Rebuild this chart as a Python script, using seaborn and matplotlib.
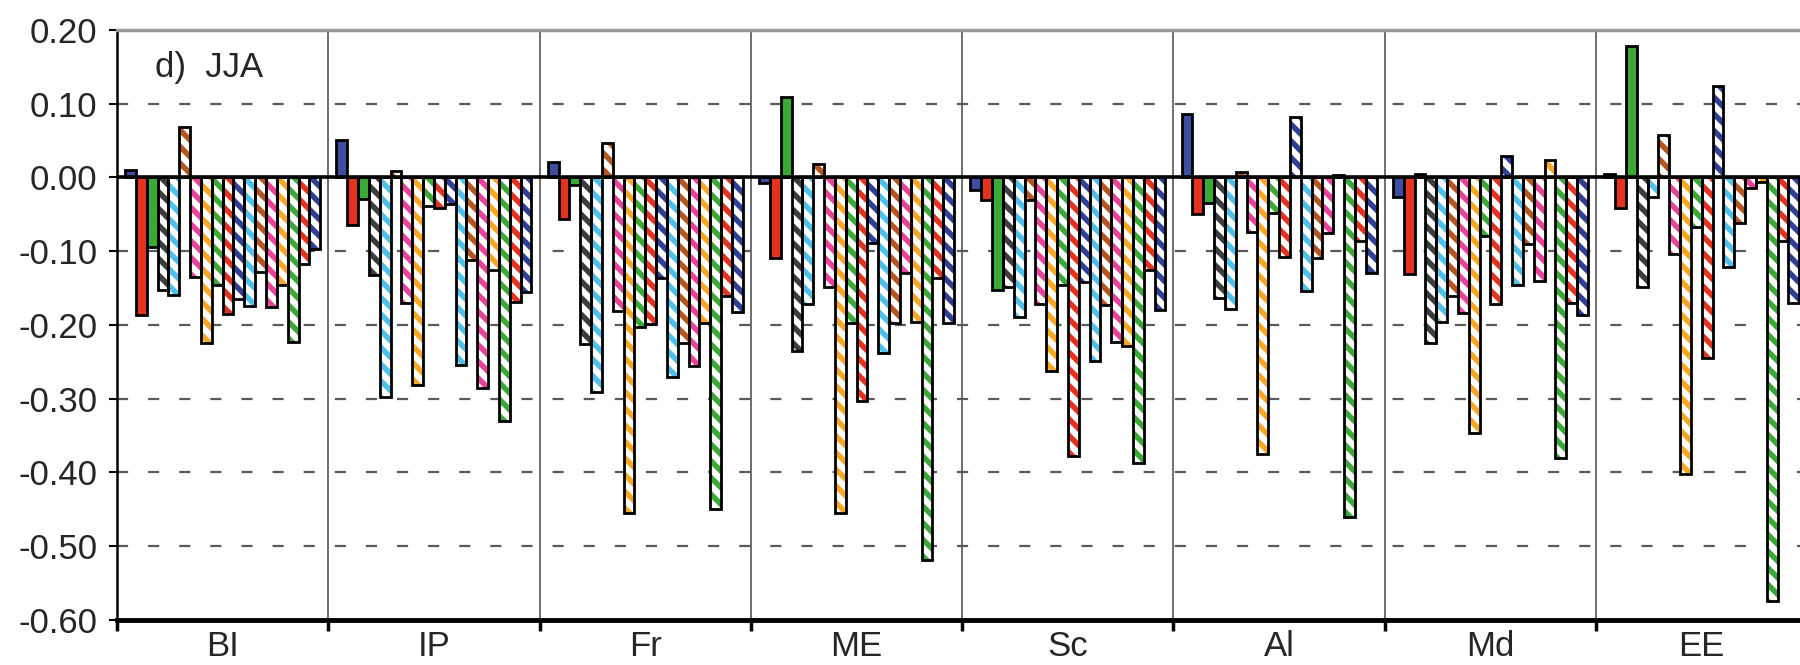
import matplotlib
matplotlib.use("Agg")
import matplotlib.pyplot as plt
from matplotlib.patches import Rectangle
import seaborn as sns
import pandas as pd

# regions on the x axis
regions = ["BI", "IP", "Fr", "ME", "Sc", "Al", "Md", "EE"]

# 18 series per region: 3 solid + 15 hatched
series = ["s%02d" % i for i in range(1, 19)]
colors = ["#3c4da2", "#e4321f", "#3aa935",
          "#3d3d3d", "#4dc1ea", "#b4561e", "#e8429a", "#f7a823",
          "#3aa935", "#e4321f", "#2f3f96", "#4dc1ea", "#b4561e",
          "#e8429a", "#f7a823", "#3aa935", "#e4321f", "#2f3f96"]
hatched = [False] * 3 + [True] * 15

# values (JJA)
bi = [0.010, -0.187, -0.094, -0.153, -0.160, 0.069, -0.135, -0.225, -0.146,
      -0.185, -0.165, -0.175, -0.128, -0.176, -0.146, -0.223, -0.117, -0.097]
ip = [0.051, -0.065, -0.029, -0.133, -0.298, 0.008, -0.171, -0.282, -0.039,
      -0.041, -0.036, -0.255, -0.112, -0.286, -0.126, -0.330, -0.169, -0.155]
fr = [0.021, -0.056, -0.011, -0.226, -0.291, 0.046, -0.181, -0.455, -0.203,
      -0.199, -0.137, -0.271, -0.225, -0.256, -0.198, -0.450, -0.161, -0.183]
me = [-0.008, -0.109, 0.109, -0.235, -0.172, 0.018, -0.148, -0.455, -0.198,
      -0.303, -0.089, -0.238, -0.197, -0.130, -0.196, -0.519, -0.137, -0.198]
sc = [-0.017, -0.030, -0.153, -0.148, -0.190, -0.031, -0.172, -0.263, -0.146,
      -0.378, -0.142, -0.249, -0.173, -0.223, -0.229, -0.387, -0.126, -0.180]
al = [0.086, -0.050, -0.035, -0.163, -0.178, 0.007, -0.074, -0.375, -0.048,
      -0.108, 0.082, -0.154, -0.110, -0.076, 0.003, -0.460, -0.086, -0.130]
md = [-0.027, -0.131, 0.004, -0.224, -0.196, -0.161, -0.184, -0.346, -0.079,
      -0.172, 0.029, -0.146, -0.090, -0.141, 0.023, -0.381, -0.171, -0.186]
ee = [0.004, -0.042, 0.178, -0.148, -0.026, 0.057, -0.104, -0.402, -0.067,
      -0.245, 0.124, -0.122, -0.062, -0.015, -0.006, -0.574, -0.086, -0.171]

values = [bi, ip, fr, me, sc, al, md, ee]
rows = []
for reg, vals in zip(regions, values):
    for s, v in zip(series, vals):
        rows.append({"region": reg, "series": s, "value": v})
df = pd.DataFrame(rows)

HATCH_LW = 4.0

sns.set_style("white")
plt.rcParams["font.family"] = ["Liberation Sans", "DejaVu Sans"]
plt.rcParams["axes.unicode_minus"] = False
plt.rcParams["hatch.linewidth"] = HATCH_LW

fig = plt.figure(figsize=(18, 6.65), dpi=100)
ax = fig.add_axes([0.065, 0.068, 0.935, 0.887])

sns.barplot(data=df, x="region", y="value", hue="series", order=regions,
            hue_order=series, palette=colors, width=18 / 19.5, errorbar=None,
            legend=False, saturation=1, ax=ax, zorder=3)

# hatch the outlined series, then draw black outlines on top
for cont, col, h in zip(ax.containers, colors, hatched):
    for p in cont.patches:
        if h:
            p.set_facecolor("white")
            p.set_edgecolor(col)
            p.set_hatch("\\\\")
            if hasattr(p, "set_hatch_linewidth"):
                p.set_hatch_linewidth(HATCH_LW)
            p.set_linewidth(0)
        else:
            p.set_edgecolor("none")
        ax.add_patch(Rectangle((p.get_x(), p.get_y()), p.get_width(), p.get_height(),
                               fill=False, edgecolor="black", lw=2.0, zorder=4))

ax.set_ylim(-0.60, 0.20)
ax.set_xlim(-0.5, 7.465)
yt = [0.20, 0.10, 0.00, -0.10, -0.20, -0.30, -0.40, -0.50, -0.60]
ax.set_yticks(yt)
ax.set_yticklabels(["%.2f" % t for t in yt])

# dashed gridlines
for t in yt:
    if t not in (0.0, 0.20, -0.60):
        ax.axhline(t, color="#5a5a5a", lw=1.6, dashes=(5, 9), zorder=1)
ax.axhline(0, color="black", lw=2.6, zorder=5)

# group dividers
for b in range(1, 8):
    ax.axvline(b - 0.5, color="#555555", lw=1.2, zorder=1)
ax.set_xticks([b - 0.5 for b in range(0, 8)], minor=True)

ax.tick_params(axis="x", which="major", length=0, labelsize=25, pad=7)
ax.tick_params(axis="x", which="minor", length=8, width=2.5, color="black",
               direction="out", bottom=True)
ax.tick_params(axis="y", length=6, width=1.5, labelsize=25, pad=8, left=True,
               color="black")
ax.set_xlabel("")
ax.set_ylabel("")

ax.spines["right"].set_visible(False)
ax.spines["top"].set_color("#999999")
ax.spines["top"].set_linewidth(2.5)
ax.spines["left"].set_color("black")
ax.spines["left"].set_linewidth(1.8)
ax.spines["bottom"].set_color("black")
ax.spines["bottom"].set_linewidth(3.5)

ax.text(0.0226, 0.937, "d)  JJA", transform=ax.transAxes, fontsize=25,
        va="center", ha="left")

fig.savefig("out.png", dpi=100)
